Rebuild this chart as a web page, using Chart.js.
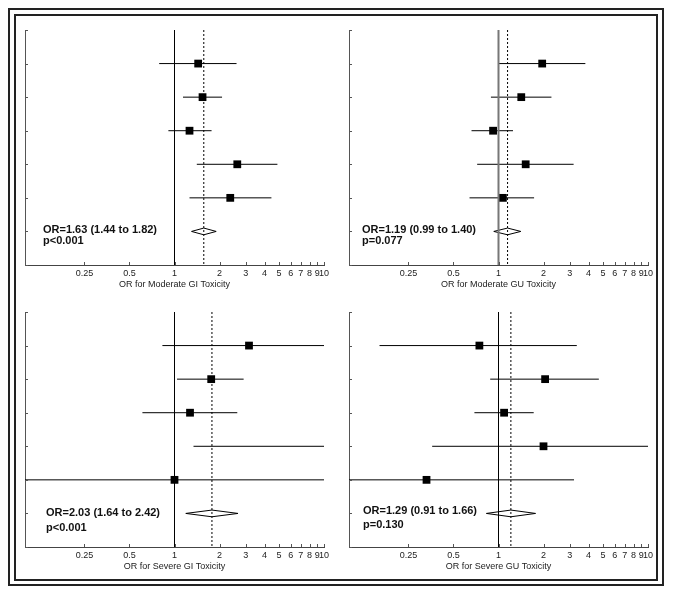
<!DOCTYPE html>
<html>
<head>
<meta charset="utf-8">
<script src="https://cdn.jsdelivr.net/npm/chart.js@4.4.1/dist/chart.umd.min.js"></script>
<style>
  body { margin: 0; background: #fff; }
  .frame { position: absolute; border: 2px solid #222; box-sizing: border-box; }
  canvas { position: absolute; }
</style>
</head>
<body>
<div class="frame" style="left:8px;top:8px;width:656px;height:578px"></div>
<div class="frame" style="left:14px;top:14px;width:644px;height:567px"></div>
<canvas id="c1" width="318" height="279" style="left:16px;top:16px"></canvas>
<canvas id="c2" width="318" height="279" style="left:340px;top:16px"></canvas>
<canvas id="c3" width="318" height="279" style="left:16px;top:298px"></canvas>
<canvas id="c4" width="318" height="279" style="left:340px;top:298px"></canvas>
<script>
// rows from the top: 5 studies, then the pooled estimate
var rowIndex = [1, 2, 3, 4, 5];
var pooledRow = 6;
var rowTicks = [0, 1, 2, 3, 4, 5, 6, 7];

var xTickValues = [0.25, 0.5, 1, 2, 3, 4, 5, 6, 7, 8, 9, 10];
var xTickLabels = ['0.25', '0.5', '1', '2', '3', '4', '5', '6', '7', '8', '9', '10'];

// moderate GI toxicity
var modGiOr = [1.44, 1.54, 1.26, 2.63, 2.36];
var modGiLo = [0.79, 1.14, 0.91, 1.41, 1.26];
var modGiHi = [2.60, 2.08, 1.77, 4.88, 4.45];
var modGiPooled = [1.57, 1.30, 1.90];   // estimate, low, high
var modGiText = ['OR=1.63 (1.44 to 1.82)', 'p<0.001'];

// moderate GU toxicity
var modGuOr = [1.96, 1.42, 0.92, 1.52, 1.07];
var modGuLo = [1.00, 0.89, 0.66, 0.72, 0.64];
var modGuHi = [3.81, 2.26, 1.25, 3.18, 1.73];
var modGuPooled = [1.15, 0.93, 1.41];
var modGuText = ['OR=1.19 (0.99 to 1.40)', 'p=0.077'];

// severe GI toxicity
var sevGiOr = [3.15, 1.76, 1.27, 12.0, 1.00];
var sevGiLo = [0.83, 1.04, 0.61, 1.34, 0.08];
var sevGiHi = [12.0, 2.90, 2.63, 15.0, 12.0];
var sevGiPooled = [1.78, 1.19, 2.66];
var sevGiText = ['OR=2.03 (1.64 to 2.42)', 'p<0.001'];

// severe GU toxicity
var sevGuOr = [0.745, 2.05, 1.09, 2.00, 0.33];
var sevGuLo = [0.16, 0.88, 0.69, 0.36, 0.09];
var sevGuHi = [3.34, 4.69, 1.72, 11.0, 3.20];
var sevGuPooled = [1.21, 0.83, 1.77];
var sevGuText = ['OR=1.29 (0.91 to 1.66)', 'p=0.130'];

Chart.defaults.font.family = 'Liberation Sans, Arial, sans-serif';

function makeForest(id, or, lo, hi, pooled, title, text, opts){
	var datasets = [];

	// line of no effect
	datasets.push({
		data: [{x: 1, y: 0}, {x: 1, y: 7}],
		showLine: true, borderColor: opts.refColor, borderWidth: opts.refWidth, pointRadius: 0
	});
	// pooled estimate, dashed
	datasets.push({
		data: [{x: pooled[0], y: 0}, {x: pooled[0], y: 7}],
		showLine: true, borderColor: '#000', borderWidth: 1, borderDash: [2, 2], pointRadius: 0
	});
	// confidence intervals
	for(var i in rowIndex){
		datasets.push({
			data: [{x: lo[i], y: rowIndex[i]}, {x: hi[i], y: rowIndex[i]}],
			showLine: true, borderColor: '#000', borderWidth: 1, pointRadius: 0, clip: 0
		});
	}
	// study estimates
	datasets.push({
		data: or.map(function(v, i){ return {x: v, y: rowIndex[i]}; }),
		pointStyle: 'rect', pointRadius: 5.5, backgroundColor: '#000', borderColor: '#000', borderWidth: 0, clip: 0
	});
	// pooled diamond
	var h = 0.1;
	datasets.push({
		data: [
			{x: pooled[1], y: pooledRow}, {x: pooled[0], y: pooledRow - h},
			{x: pooled[2], y: pooledRow}, {x: pooled[0], y: pooledRow + h},
			{x: pooled[1], y: pooledRow}
		],
		showLine: true, borderColor: '#000', borderWidth: 1, pointRadius: 0
	});

	var extras = {
		id: 'extras' + id,
		afterDraw: function(chart){
			var ctx = chart.ctx, xs = chart.scales.x, ys = chart.scales.y, a = chart.chartArea;
			ctx.save();
			// inward tick marks
			ctx.strokeStyle = '#555';
			ctx.lineWidth = 1;
			ctx.beginPath();
			rowTicks.forEach(function(t){
				var py = Math.round(ys.getPixelForValue(t)) + 0.5;
				ctx.moveTo(a.left, py); ctx.lineTo(a.left + 3, py);
			});
			xTickValues.forEach(function(t){
				var px = Math.round(xs.getPixelForValue(t)) + 0.5;
				ctx.moveTo(px, a.bottom); ctx.lineTo(px, a.bottom - 3);
			});
			ctx.stroke();
			// summary text
			var base = ys.getPixelForValue(pooledRow);
			ctx.fillStyle = '#111';
			ctx.font = 'bold 11px Liberation Sans, Arial, sans-serif';
			ctx.textBaseline = 'alphabetic';
			ctx.fillText(text[0], a.left + opts.textDx, base + opts.textDy[0]);
			ctx.fillText(text[1], a.left + opts.textDx, base + opts.textDy[1]);
			ctx.restore();
		}
	};

	return new Chart(document.getElementById(id), {
		type: 'scatter',
		data: {datasets: datasets},
		plugins: [extras],
		options: {
			responsive: false,
			animation: false,
			events: [],
			devicePixelRatio: 1,
			layout: {padding: {left: 9, top: 14, right: 10, bottom: 0}},
			plugins: {legend: {display: false}, tooltip: {enabled: false}},
			scales: {
				x: {
					type: 'logarithmic', min: 0.1, max: 10,
					afterBuildTicks: function(scale){
						scale.ticks = xTickValues.map(function(v){ return {value: v}; });
					},
					afterFit: function(scale){ scale.height = 30; },
					grid: {display: false, drawTicks: false},
					border: {display: true, color: '#444', width: 1},
					ticks: {
						autoSkip: false, maxRotation: 0, minRotation: 0, padding: 3,
						color: '#222', font: {size: 9},
						callback: function(v, i){ return xTickLabels[i]; }
					},
					title: {display: true, text: title, color: '#222', font: {size: 9}, padding: {top: 0, bottom: 5}}
				},
				y: {
					min: 0, max: 7, reverse: true,
					afterFit: function(scale){ scale.width = 0; },
					grid: {display: false, drawTicks: false},
					border: {display: true, color: '#555', width: 1},
					ticks: {display: false}
				}
			}
		}
	});
}

makeForest('c1', modGiOr, modGiLo, modGiHi, modGiPooled, 'OR for Moderate GI Toxicity', modGiText,
	{refColor: '#000', refWidth: 1, textDx: 18, textDy: [2, 13]});
makeForest('c2', modGuOr, modGuLo, modGuHi, modGuPooled, 'OR for Moderate GU Toxicity', modGuText,
	{refColor: '#777', refWidth: 2, textDx: 13, textDy: [2, 13]});
makeForest('c3', sevGiOr, sevGiLo, sevGiHi, sevGiPooled, 'OR for Severe GI Toxicity', sevGiText,
	{refColor: '#000', refWidth: 1, textDx: 21, textDy: [3, 18]});
makeForest('c4', sevGuOr, sevGuLo, sevGuHi, sevGuPooled, 'OR for Severe GU Toxicity', sevGuText,
	{refColor: '#000', refWidth: 1, textDx: 14, textDy: [1, 15]});
</script>
</body>
</html>
